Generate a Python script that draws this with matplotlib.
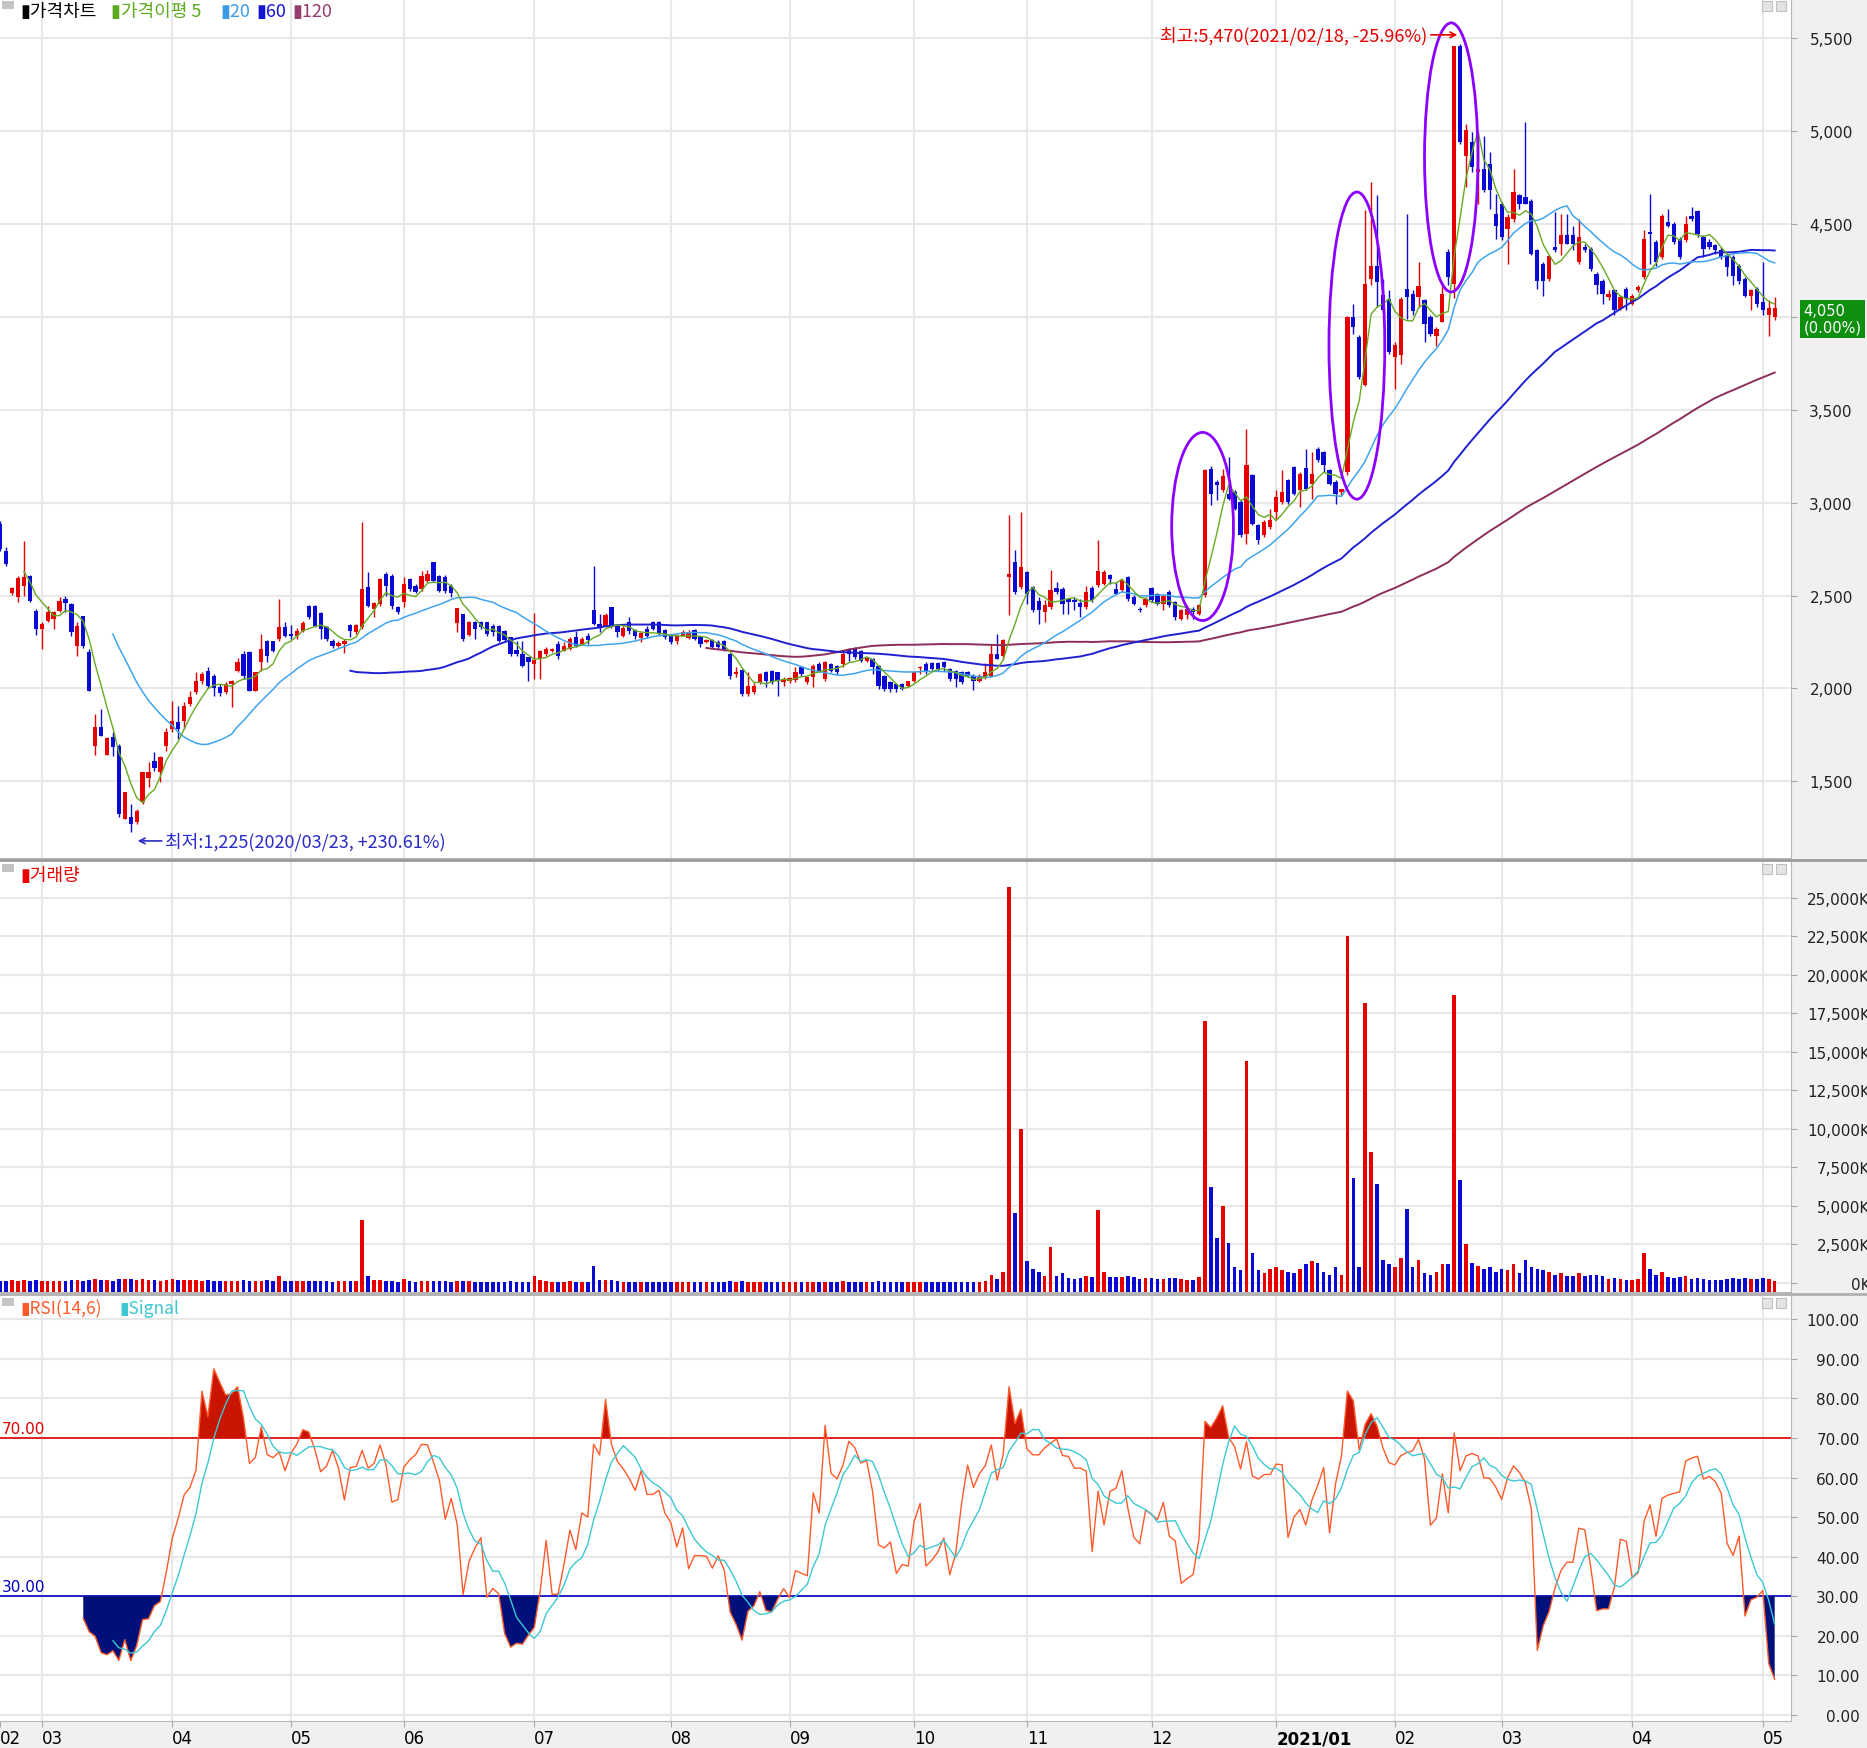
import numpy as np
import pandas as pd
import matplotlib
matplotlib.use('Agg')
import matplotlib.pyplot as plt
import matplotlib.transforms as mtransforms
from matplotlib.patches import Ellipse, Rectangle

plt.rcParams['font.family'] = ['Noto Sans CJK KR', 'DejaVu Sans']
plt.rcParams['axes.unicode_minus'] = False

# 일봉 데이터 (2020/02/20 ~ 2021/05/06), 가격(원), 거래량(천주)
opens = [
    2885, 2742, 2515, 2490, 2553, 2604, 2419, 2320, 2365, 2374,
    2419, 2482, 2455, 2230, 2388, 2195, 1692, 1790, 1642, 1737,
    1692, 1297, 1306, 1279, 1387, 1516, 1611, 1552, 1692, 1782,
    1818, 1827, 1916, 1979, 2042, 2096, 2069, 2006, 1979, 2024,
    2096, 2186, 2195, 1988, 2141, 2257, 2257, 2266, 2329, 2293,
    2284, 2311, 2446, 2446, 2406, 2329, 2257, 2230, 2239, 2342,
    2302, 2329, 2544, 2428, 2455, 2616, 2607, 2437, 2464, 2589,
    2553, 2535, 2580, 2679, 2607, 2598, 2550, 2352, 2401, 2288,
    2356, 2356, 2356, 2338, 2338, 2311, 2275, 2207, 2185, 2167,
    2131, 2158, 2185, 2203, 2239, 2203, 2212, 2275, 2239, 2284,
    2423, 2347, 2338, 2437, 2338, 2284, 2356, 2315, 2272, 2320,
    2356, 2356, 2315, 2284, 2257, 2284, 2271, 2315, 2275, 2248,
    2261, 2248, 2257, 2185, 2078, 2099, 1970, 1979, 2033, 2087,
    2096, 2087, 2033, 2038, 2046, 2117, 2033, 2060, 2131, 2051,
    2131, 2122, 2131, 2212, 2218, 2203, 2149, 2158, 2122, 2069,
    2033, 2024, 2024, 2015, 2042, 2110, 2131, 2135, 2135, 2140,
    2104, 2096, 2087, 2087, 2069, 2042, 2060, 2069, 2185, 2177,
    2600, 2681, 2546, 2627, 2546, 2471, 2412, 2439, 2543, 2537,
    2479, 2475, 2460, 2439, 2543, 2555, 2564, 2609, 2537, 2528,
    2600, 2492, 2430, 2448, 2543, 2510, 2457, 2519, 2466, 2376,
    2394, 2430, 2403, 2501, 3183, 3112, 3067, 3049, 3058, 3004,
    2833, 3147, 2878, 2824, 2869, 2950, 3004, 3120, 3192, 3067,
    3189, 3103, 3291, 3273, 3174, 3112, 3058, 3165, 3998, 3892,
    3632, 4206, 4277, 4116, 4098, 3784, 3793, 4152, 4125, 4108,
    4089, 3999, 3900, 3972, 4349, 4178, 5461, 4869, 4941, 4780,
    4798, 4824, 4555, 4609, 4475, 4528, 4658, 4645, 4627, 4358,
    4286, 4205, 4376, 4394, 4439, 4439, 4295, 4376, 4367, 4232,
    4196, 4107, 4143, 4044, 4151, 4071, 4143, 4214, 4456, 4403,
    4322, 4510, 4501, 4421, 4412, 4546, 4573, 4430, 4403, 4385,
    4358, 4331, 4322, 4277, 4205, 4115, 4151, 4080, 4008, 4000,
]
highs = [
    2900, 2760, 2545, 2607, 2796, 2611, 2430, 2360, 2445, 2415,
    2490, 2496, 2460, 2356, 2392, 2212, 1862, 1889, 1736, 1764,
    1700, 1444, 1378, 1350, 1552, 1602, 1656, 1636, 1785, 1934,
    1907, 1925, 1988, 2087, 2090, 2114, 2078, 2024, 2033, 2045,
    2162, 2203, 2203, 2090, 2293, 2262, 2257, 2482, 2360, 2342,
    2325, 2365, 2449, 2449, 2410, 2338, 2266, 2257, 2266, 2347,
    2347, 2898, 2625, 2464, 2593, 2625, 2616, 2446, 2598, 2593,
    2562, 2634, 2639, 2683, 2611, 2611, 2562, 2432, 2401, 2365,
    2365, 2362, 2360, 2345, 2344, 2316, 2279, 2257, 2254, 2171,
    2405, 2207, 2225, 2220, 2254, 2248, 2275, 2311, 2275, 2297,
    2657, 2401, 2406, 2441, 2347, 2338, 2383, 2320, 2302, 2338,
    2365, 2362, 2320, 2290, 2293, 2315, 2315, 2320, 2284, 2266,
    2266, 2261, 2261, 2189, 2117, 2105, 2087, 2027, 2083, 2092,
    2099, 2090, 2060, 2062, 2117, 2122, 2069, 2131, 2140, 2146,
    2135, 2128, 2194, 2218, 2221, 2207, 2170, 2164, 2128, 2074,
    2042, 2027, 2030, 2042, 2092, 2122, 2140, 2140, 2140, 2146,
    2110, 2099, 2096, 2092, 2078, 2078, 2135, 2239, 2293, 2266,
    2932, 2744, 2950, 2630, 2550, 2493, 2475, 2636, 2573, 2546,
    2484, 2493, 2483, 2550, 2550, 2797, 2636, 2615, 2573, 2591,
    2604, 2501, 2439, 2492, 2546, 2515, 2496, 2528, 2471, 2430,
    2448, 2439, 2457, 3183, 3196, 3121, 3183, 3246, 3067, 3013,
    3399, 3156, 2887, 2905, 2968, 3067, 3174, 3129, 3196, 3165,
    3291, 3273, 3300, 3278, 3183, 3121, 3076, 4005, 4072, 3901,
    4574, 4727, 4655, 4206, 4143, 3865, 4107, 4556, 4143, 4296,
    4099, 4008, 3945, 4187, 4367, 5461, 5470, 5040, 4995, 4995,
    4977, 4887, 4663, 4618, 4555, 4797, 4663, 5049, 4636, 4367,
    4295, 4331, 4564, 4555, 4555, 4492, 4528, 4394, 4376, 4241,
    4205, 4143, 4151, 4116, 4160, 4125, 4170, 4466, 4663, 4412,
    4555, 4582, 4510, 4430, 4546, 4591, 4577, 4439, 4421, 4394,
    4376, 4340, 4331, 4286, 4214, 4151, 4160, 4295, 4089, 4107,
]
lows = [
    2740, 2660, 2505, 2464, 2500, 2464, 2288, 2212, 2356, 2322,
    2410, 2410, 2284, 2176, 2220, 1988, 1642, 1742, 1642, 1638,
    1306, 1297, 1225, 1270, 1378, 1468, 1558, 1494, 1665, 1764,
    1728, 1782, 1907, 1970, 2024, 2001, 1961, 1961, 1970, 1898,
    2087, 2051, 1988, 1988, 2096, 2141, 2195, 2257, 2275, 2266,
    2266, 2302, 2374, 2329, 2266, 2257, 2216, 2221, 2190, 2275,
    2293, 2320, 2437, 2383, 2446, 2500, 2428, 2401, 2437, 2526,
    2514, 2526, 2571, 2571, 2518, 2514, 2491, 2302, 2257, 2284,
    2266, 2320, 2284, 2284, 2248, 2252, 2176, 2176, 2117, 2042,
    2050, 2050, 2176, 2198, 2158, 2200, 2207, 2221, 2234, 2239,
    2344, 2302, 2330, 2326, 2275, 2275, 2293, 2266, 2248, 2272,
    2315, 2288, 2266, 2240, 2239, 2280, 2266, 2261, 2221, 2244,
    2218, 2212, 2203, 2051, 2060, 1961, 1961, 1970, 2024, 2006,
    2024, 1961, 2015, 2030, 2033, 2069, 2024, 2006, 2087, 2042,
    2087, 2078, 2113, 2149, 2158, 2140, 2140, 2078, 1997, 1988,
    1979, 1979, 1990, 2006, 2033, 2078, 2078, 2100, 2096, 2096,
    2042, 2006, 2024, 2060, 1992, 2033, 2051, 2060, 2158, 2158,
    2394, 2511, 2537, 2456, 2412, 2349, 2358, 2430, 2510, 2403,
    2403, 2420, 2385, 2430, 2466, 2546, 2555, 2564, 2510, 2519,
    2470, 2448, 2412, 2439, 2466, 2450, 2421, 2439, 2371, 2367,
    2376, 2376, 2394, 2492, 2986, 3013, 3058, 3013, 2959, 2815,
    2780, 2878, 2779, 2815, 2860, 2914, 2995, 2995, 3040, 2977,
    3067, 3022, 3219, 3165, 3094, 2995, 3040, 3150, 3910, 3668,
    3627, 4170, 4054, 4027, 3802, 3614, 3748, 3991, 4008, 4053,
    3864, 3900, 3846, 3972, 4170, 4100, 4932, 4699, 4780, 4609,
    4672, 4582, 4421, 4412, 4286, 4510, 4582, 4609, 4331, 4151,
    4115, 4196, 4349, 4331, 4394, 4358, 4286, 4349, 4250, 4125,
    4071, 4089, 4008, 4035, 4035, 4062, 4134, 4205, 4286, 4277,
    4313, 4483, 4394, 4313, 4403, 4519, 4430, 4322, 4367, 4340,
    4313, 4223, 4170, 4178, 4107, 4035, 4053, 4008, 3900, 3982,
]
closes = [
    2750, 2670, 2540, 2593, 2598, 2473, 2320, 2347, 2410, 2410,
    2473, 2460, 2302, 2338, 2230, 1988, 1790, 1746, 1731, 1683,
    1324, 1440, 1270, 1342, 1548, 1548, 1570, 1629, 1764, 1827,
    1782, 1907, 1952, 2042, 2078, 2015, 2001, 1975, 2024, 2042,
    2141, 2069, 1988, 2087, 2212, 2176, 2203, 2329, 2284, 2280,
    2311, 2352, 2383, 2338, 2320, 2266, 2230, 2244, 2257, 2311,
    2342, 2535, 2446, 2460, 2589, 2553, 2446, 2410, 2562, 2535,
    2518, 2607, 2616, 2580, 2526, 2526, 2514, 2432, 2266, 2356,
    2320, 2329, 2293, 2302, 2257, 2261, 2185, 2185, 2122, 2140,
    2153, 2203, 2212, 2212, 2177, 2230, 2266, 2230, 2266, 2261,
    2347, 2329, 2398, 2329, 2302, 2325, 2311, 2284, 2297, 2284,
    2320, 2293, 2275, 2248, 2284, 2306, 2306, 2266, 2239, 2261,
    2221, 2221, 2212, 2069, 2087, 1970, 2015, 2015, 2078, 2042,
    2033, 2042, 2051, 2056, 2087, 2078, 2060, 2122, 2096, 2140,
    2096, 2087, 2185, 2185, 2167, 2149, 2164, 2113, 2015, 1997,
    1997, 1997, 1997, 2038, 2087, 2117, 2096, 2105, 2105, 2113,
    2051, 2051, 2033, 2069, 2042, 2069, 2087, 2185, 2158, 2261,
    2615, 2519, 2656, 2510, 2421, 2421, 2448, 2528, 2520, 2457,
    2466, 2466, 2440, 2519, 2475, 2632, 2627, 2591, 2510, 2582,
    2483, 2457, 2421, 2483, 2475, 2457, 2496, 2448, 2385, 2421,
    2430, 2412, 2448, 3174, 3049, 3094, 3142, 3022, 2968, 2824,
    3201, 2887, 2797, 2896, 2905, 3031, 3058, 3004, 3049, 3156,
    3076, 3156, 3228, 3201, 3103, 3049, 3076, 3998, 3946, 3677,
    4179, 4277, 4188, 4036, 3811, 3847, 4098, 4108, 4030, 4165,
    3963, 3909, 3936, 4125, 4214, 5461, 4941, 5004, 4806, 4798,
    4681, 4681, 4492, 4430, 4537, 4672, 4609, 4609, 4340, 4196,
    4196, 4326, 4358, 4439, 4394, 4394, 4430, 4358, 4259, 4170,
    4125, 4125, 4035, 4107, 4098, 4115, 4161, 4421, 4447, 4295,
    4546, 4492, 4403, 4322, 4501, 4528, 4448, 4367, 4376, 4358,
    4322, 4268, 4223, 4196, 4115, 4143, 4071, 4035, 4050, 4050,
]
volumes = [
    100, 130, 150, 120, 180, 130, 160, 130, 100, 110,
    130, 100, 140, 160, 130, 200, 230, 160, 150, 130,
    260, 210, 240, 180, 260, 160, 150, 130, 200, 220,
    150, 160, 170, 180, 130, 150, 120, 100, 110, 100,
    130, 140, 130, 110, 120, 150, 100, 460, 130, 100,
    100, 100, 130, 120, 90, 80, 70, 80, 90, 100,
    120, 4100, 450, 150, 180, 110, 90, 70, 250, 80,
    70, 100, 90, 100, 90, 80, 70, 130, 100, 80,
    70, 70, 60, 60, 70, 60, 80, 60, 70, 70,
    450, 150, 80, 60, 70, 60, 80, 70, 60, 70,
    1100, 200, 200, 150, 80, 70, 70, 60, 50, 60,
    60, 60, 50, 70, 60, 60, 70, 60, 50, 50,
    60, 50, 60, 90, 60, 100, 70, 60, 70, 60,
    50, 60, 50, 50, 60, 60, 50, 70, 60, 70,
    60, 60, 80, 70, 60, 60, 50, 60, 80, 70,
    60, 50, 50, 50, 60, 60, 50, 50, 50, 50,
    60, 50, 60, 50, 60, 60, 80, 500, 250, 700,
    25700, 4500, 10000, 1400, 900, 700, 450, 2300, 400, 600,
    300, 250, 300, 450, 350, 4700, 700, 350, 350, 350,
    450, 350, 250, 300, 300, 250, 250, 300, 300, 250,
    200, 200, 350, 17000, 6200, 2900, 5000, 2600, 1000, 800,
    14400, 1900, 800, 600, 900, 1000, 800, 700, 600, 900,
    1200, 1400, 1300, 700, 500, 1000, 500, 22500, 6800, 1000,
    18200, 8500, 6400, 1500, 1200, 1000, 1600, 4800, 1000, 1500,
    600, 500, 700, 1200, 1200, 18700, 6700, 2500, 1300, 1100,
    900, 1000, 700, 900, 800, 1200, 600, 1500, 1000, 900,
    800, 700, 500, 600, 400, 400, 600, 400, 500, 500,
    400, 250, 300, 250, 200, 200, 250, 1900, 900, 500,
    700, 350, 300, 350, 450, 250, 300, 250, 200, 200,
    200, 250, 300, 250, 300, 250, 250, 300, 250, 120,
]

# 월 시작 위치(거래일 인덱스)와 라벨
month_days = [7, 29, 49, 68, 90, 113, 133, 154, 173, 194, 215, 235, 253, 275, 297]
month_labels = ['03', '04', '05', '06', '07', '08', '09', '10', '11', '12',
                '2021/01', '02', '03', '04', '05']

price_ticks = [1500, 2000, 2500, 3000, 3500, 4000, 4500, 5000, 5500]
vol_ticks = [0, 2500, 5000, 7500, 10000, 12500, 15000, 17500, 20000, 22500, 25000]
rsi_ticks = [0, 10, 20, 30, 40, 50, 60, 70, 80, 90, 100]

# 지표 계산
df = pd.DataFrame({'open': opens, 'high': highs, 'low': lows, 'close': closes, 'vol': volumes})
days = np.arange(len(df))
ma5 = df['close'].rolling(5).mean()
ma20 = df['close'].rolling(20).mean()
ma60 = df['close'].rolling(60).mean()
ma120 = df['close'].rolling(120).mean()

diff = df['close'].diff()
up = diff.clip(lower=0).rolling(14).mean()
dn = (-diff.clip(upper=0)).rolling(14).mean()
rsi = 100 * up / (up + dn)
signal = rsi.rolling(6).mean()

RED = '#E60000'
BLUE = '#0A0AD2'
GRID = '#E8E8E8'
C5, C20, C60, C120 = '#66AA22', '#3FA4EE', '#2020D0', '#8C2D5A'
RSI_C, SIG_C = '#FF5A2A', '#3CC8D2'

W, H = 1867, 1749
fig = plt.figure(figsize=(W / 100, H / 100), dpi=100, facecolor='#F0F0F0')


def px_axes(x0, y0, x1, y1):
    return fig.add_axes([x0 / W, 1 - y1 / H, (x1 - x0) / W, (y1 - y0) / H])


def ftext(x, y, s, **kw):
    return fig.text(x / W, 1 - y / H, s, **kw)


ax_p = px_axes(0, 0, 1791, 859)
ax_v = px_axes(0, 863, 1791, 1293)
ax_r = px_axes(0, 1297, 1791, 1722)

for ax in (ax_p, ax_v, ax_r):
    ax.set_facecolor('white')
    ax.set_xlim(-0.03, 301.75)
    for d in month_days:
        ax.axvline(d, color=GRID, lw=1.5, zorder=0)
    ax.grid(axis='y', color=GRID, lw=1.5, zorder=0)
    ax.set_axisbelow(True)
    ax.spines['top'].set_visible(False)
    ax.spines['left'].set_visible(False)
    ax.spines['right'].set_color('#B8B8B8')
    ax.spines['bottom'].set_color('#B8B8B8')
    ax.yaxis.tick_right()
    ax.tick_params(axis='y', direction='out', length=4, color='#A8A8A8',
                   labelsize=11, labelcolor='#222222')

# 가격 차트
is_up = df['close'] >= df['open']
ccol = np.where(is_up, RED, BLUE)
ax_p.vlines(days, df['low'], df['high'], colors=ccol, lw=1.0, zorder=3)
body_lo = np.minimum(df['open'], df['close'])
body_h = np.maximum((df['close'] - df['open']).abs(), 8)
ax_p.bar(days, body_h, bottom=body_lo, width=0.72, color=ccol, linewidth=0, zorder=4)
ax_p.plot(days, ma120, color=C120, lw=1.4, zorder=5)
ax_p.plot(days, ma60, color=C60, lw=1.4, zorder=5)
ax_p.plot(days, ma20, color=C20, lw=1.1, zorder=5)
ax_p.plot(days, ma5, color=C5, lw=1.0, zorder=6)
ax_p.set_ylim(1087, 5712)
ax_p.set_xticks([])
ax_p.set_yticks(price_ticks)
# 4,000 자리는 현재가 박스가 가림
ax_p.set_yticklabels(['' if v == 4000 else f'{v:,}' for v in price_ticks])
ax_p.tick_params(axis='y', pad=40.5)

# 표시용 타원
for cx, cy, ew, eh in [(202.6, 2872, 10.4, 1013), (228.6, 3846, 9.4, 1654), (244.5, 4859, 9.0, 1449)]:
    ax_p.add_patch(Ellipse((cx, cy), ew, eh, fill=False, ec='#8C00FF', lw=2.0, zorder=7))

# 최고/최저 표시
i_hi = int(np.argmax(highs))
i_lo = int(np.argmin(lows))
hi, lo, last = highs[i_hi], lows[i_lo], closes[-1]
ax_p.annotate('', xy=(i_hi, 5519), xytext=(i_hi - 5.4, 5519),
              arrowprops=dict(arrowstyle='->', color=RED, lw=1.2), zorder=8)
ax_p.text(i_hi - 5.5, 5519, f'최고:{hi:,}(2021/02/18, {(last / hi - 1) * 100:.2f}%)',
          ha='right', va='center', color=RED, fontsize=13, zorder=8)
ax_p.annotate('', xy=(i_lo + 0.7, 1179), xytext=(i_lo + 5.7, 1179),
              arrowprops=dict(arrowstyle='->', color='#2B2BC8', lw=1.2), zorder=8)
ax_p.text(i_lo + 5.8, 1179, f'최저:{lo:,}(2020/03/23, +{(last / lo - 1) * 100:.2f}%)',
          ha='left', va='center', color='#2B2BC8', fontsize=13, zorder=8)

# 현재가 박스
ax_p.annotate(f'{last:,}\n(0.00%)', xy=(1.0, last), xycoords=('axes fraction', 'data'),
              xytext=(9, -8), textcoords='offset points', ha='left', va='center',
              color='white', fontsize=10.5, family='DejaVu Sans', linespacing=1.1,
              bbox=dict(boxstyle='square,pad=0.25', fc='#0E8F0E', ec='none'),
              annotation_clip=False)

# 거래량
vbot = -611
ax_v.bar(days, df['vol'] - vbot, bottom=vbot, width=0.6, color=ccol, linewidth=0, zorder=3)
ax_v.set_ylim(vbot, 27340)
ax_v.set_xticks([])
ax_v.set_yticks(vol_ticks)
ax_v.set_yticklabels([f'{v:,}K' for v in vol_ticks])
ax_v.tick_params(axis='y', pad=53)

# RSI
ax_r.plot(days, rsi, color=RSI_C, lw=1.0, zorder=4)
ax_r.plot(days, signal, color=SIG_C, lw=1.0, zorder=4)
ax_r.fill_between(days, rsi, 70, where=rsi > 70, interpolate=True, color='#C81400', lw=0, zorder=3)
ax_r.fill_between(days, rsi, 30, where=rsi < 30, interpolate=True, color='#00107A', lw=0, zorder=3)
ax_r.axhline(70, color='#E00000', lw=1.2, zorder=2)
ax_r.axhline(30, color='#0000C0', lw=1.2, zorder=2)
ax_r.set_ylim(-1.57, 105.9)
ax_r.set_yticks(rsi_ticks)
ax_r.set_yticklabels([f'{v:.2f}' for v in rsi_ticks])
ax_r.tick_params(axis='y', pad=45.5)
bt = mtransforms.blended_transform_factory(ax_r.transAxes, ax_r.transData)
ax_r.text(0.001, 70.6, '70.00', transform=bt, ha='left', va='bottom',
          color='#E00000', fontsize=11, family='DejaVu Sans')
ax_r.text(0.001, 30.6, '30.00', transform=bt, ha='left', va='bottom',
          color='#0000C0', fontsize=11, family='DejaVu Sans')

ax_r.set_xticks([0] + month_days)
ax_r.set_xticklabels(['02'] + month_labels)
ax_r.tick_params(axis='x', length=4, color='#A8A8A8', labelsize=12, pad=2)
for lbl in ax_r.get_xticklabels():
    lbl.set_ha('left')
    lbl.set_fontfamily(['Liberation Sans Narrow', 'DejaVu Sans'])
    if lbl.get_text() == '2021/01':
        lbl.set_fontweight('bold')

for ax in (ax_p, ax_v, ax_r):
    for lbl in ax.get_yticklabels():
        lbl.set_ha('right')
        lbl.set_fontfamily('DejaVu Sans')

# 범례/제목
ftext(20, 12, '▮가격차트', color='black', fontsize=13, va='center')
ftext(111, 12, '▮가격이평 5', color='#5AAA1E', fontsize=13, va='center')
ftext(220, 12, '▮20', color='#3C9BE6', fontsize=13, va='center')
ftext(256, 12, '▮60', color='#1414D2', fontsize=13, va='center')
ftext(292, 12, '▮120', color='#963C6E', fontsize=13, va='center')
ftext(20, 876, '▮거래량', color=RED, fontsize=13, va='center')
ftext(20, 1309, '▮RSI(14,6)', color=RSI_C, fontsize=12.5, va='center')
ftext(119, 1309, '▮Signal', color=SIG_C, fontsize=12.5, va='center')

# 패널 아이콘, 구분선
for y0 in (2, 865, 1299):
    fig.add_artist(Rectangle((2 / W, 1 - (y0 + 8) / H), 12 / W, 8 / H, transform=fig.transFigure,
                             fc='#C4C4C4', ec='none'))
    for x0 in (1762, 1776):
        fig.add_artist(Rectangle((x0 / W, 1 - (y0 + 10) / H), 10 / W, 10 / H, transform=fig.transFigure,
                                 fc='#E4E4E4', ec='#C0C0C0', lw=0.8))
for yy, col in ((860.5, '#9A9A9A'), (1295, '#B0B0B0')):
    fig.add_artist(plt.Line2D([0, 1], [1 - yy / H, 1 - yy / H], transform=fig.transFigure,
                              color=col, lw=2.0))

fig.savefig('out.png', dpi=100, facecolor=fig.get_facecolor())
